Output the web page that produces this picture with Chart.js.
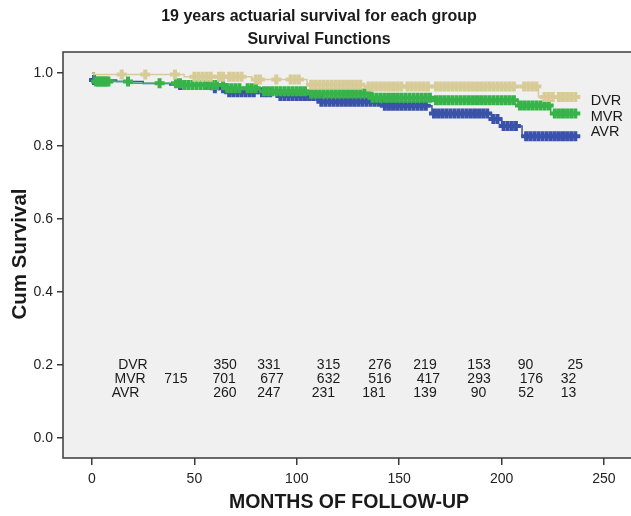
<!DOCTYPE html>
<html><head><meta charset="utf-8">
<script src="https://cdn.jsdelivr.net/npm/chart.js@4/dist/chart.umd.min.js"></script>
<style>html,body{margin:0;padding:0;background:#fff;}#wrap{width:631px;height:516px;}</style>
</head><body><div id="wrap"><canvas id="c" width="631" height="516"></canvas></div>
<script>
// ---------- DATA ----------
const groups = ['DVR', 'MVR', 'AVR'];
const xTicks = [0, 50, 100, 150, 200, 250];
const yTicks = [0, 0.2, 0.4, 0.6, 0.8, 1.0];

// Kaplan-Meier steps (month, cumulative survival after the step)
const dvrTime = [0, 1, 45, 78, 105, 133, 218, 237];
const dvrSurv = [1.0, 0.996, 0.990, 0.982, 0.968, 0.963, 0.934, 0.934];
const mvrTime = [0, 1, 18, 45, 66, 82, 106, 136, 167, 208, 224, 237];
const mvrSurv = [1.0, 0.977, 0.972, 0.967, 0.958, 0.950, 0.944, 0.932, 0.925, 0.911, 0.889, 0.889];
const avrTime = [0, 1, 12, 25, 38, 58, 67, 92, 111, 142, 166, 195, 200, 210, 237];
const avrSurv = [1.0, 0.981, 0.977, 0.971, 0.967, 0.958, 0.947, 0.937, 0.921, 0.910, 0.889, 0.874, 0.855, 0.827, 0.827];

// censored observations (months)
const dvrCensor = [14.5, 26, 40.5, 50, 52, 54, 56, 58, 62, 64, 67, 69, 71, 73, 80, 82, 90, 97, 99, 101,
  107, 109, 111, 113, 115, 117, 119, 121, 123, 125, 127, 129, 131, 135, 137, 139, 141, 143, 145, 147, 149,
  151, 154, 156, 158, 160, 162, 164, 168, 170, 172, 174, 176, 178, 180, 182, 184, 186, 188, 190, 192, 194,
  196, 198, 200, 202, 204, 206, 211, 213, 215, 217, 221, 223, 225, 228, 230, 232, 234, 236];
const mvrCensor = [2, 3, 4, 5, 6, 7, 8, 17.6, 33, 41, 43, 45, 47, 49, 51, 53, 55, 57, 59, 61, 64, 66, 68,
  70, 72, 76, 78, 80, 84, 86, 88, 90, 92, 94, 96, 98, 100, 102, 104, 107, 109, 111, 113, 115, 117, 119,
  121, 123, 125, 127, 129, 131, 133, 135, 137, 139, 141, 143, 145, 147, 149, 151, 153, 155, 157, 159, 161,
  163, 165, 168, 170, 172, 174, 176, 178, 180, 182, 184, 186, 188, 190, 192, 194, 196, 198, 200, 202, 204,
  206, 209, 211, 213, 215, 217, 219, 221, 223, 226, 228, 230, 232, 234, 236];
const avrCensor = [1, 43, 56, 60, 64, 67, 69, 71, 73, 75, 77, 79, 83, 85, 87, 92, 94, 96, 98, 100, 102, 104,
  106, 108, 110, 112, 114, 116, 118, 120, 122, 124, 126, 128, 130, 132, 134, 136, 138, 140, 143, 145, 147,
  149, 151, 153, 155, 157, 159, 161, 163, 167, 169, 171, 173, 175, 177, 179, 181, 183, 185, 187, 189, 191,
  193, 196, 198, 201, 203, 205, 207, 212, 214, 216, 218, 220, 222, 224, 226, 228, 230, 232, 234, 236];

// numbers at risk (value, month at which it is printed)
const dvrRisk = [350, 331, 315, 276, 219, 153, 90, 25];
const dvrRiskMonth = [65, 86.4, 115.5, 140.6, 162.6, 189, 211.7, 236];
const mvrRisk = [715, 701, 677, 632, 516, 417, 293, 176, 32];
const mvrRiskMonth = [41, 64.5, 87.9, 115.5, 140.6, 164.3, 189, 214.6, 232.7];
const avrRisk = [260, 247, 231, 181, 139, 90, 52, 13];
const avrRiskMonth = [64.9, 86.4, 113, 137.7, 162.6, 188.7, 212, 232.7];

// ---------- STYLE ----------
const colors = { DVR: '#d7cc98', MVR: '#37b349', AVR: '#3a52a8' };
const FONT = '"Liberation Sans", Arial, sans-serif';

function survAt(time, surv, t) {
  let v = surv[0];
  for (let i = 0; i < time.length; i++) { if (time[i] <= t) v = surv[i]; }
  return v;
}
function lineData(time, surv) { return time.map((t, i) => ({ x: t, y: surv[i] })); }
function markData(time, surv, cens) { return cens.map(t => ({ x: t, y: survAt(time, surv, t) })); }

const series = {
  DVR: { time: dvrTime, surv: dvrSurv, cens: dvrCensor },
  MVR: { time: mvrTime, surv: mvrSurv, cens: mvrCensor },
  AVR: { time: avrTime, surv: avrSurv, cens: avrCensor }
};

const datasets = [];
groups.forEach(g => {
  const s = series[g];
  datasets.push({
    label: g + ' censored', data: markData(s.time, s.surv, s.cens), showLine: false,
    pointStyle: 'cross', pointRadius: 5, pointBorderWidth: 4, borderColor: colors[g], backgroundColor: colors[g]
  });
  datasets.push({
    label: g, data: lineData(s.time, s.surv), showLine: true, stepped: true,
    borderColor: colors[g], borderWidth: 1.5, pointRadius: 0, fill: false
  });
});

const riskRows = [
  { name: 'DVR', vals: dvrRisk, months: dvrRiskMonth, y: 0.200, nameMonth: 20 },
  { name: 'MVR', vals: mvrRisk, months: mvrRiskMonth, y: 0.161, nameMonth: 18.6 },
  { name: 'AVR', vals: avrRisk, months: avrRiskMonth, y: 0.122, nameMonth: 16.4 }
];
const endLabelMonth = 243.5;
const endLabelY = { DVR: 0.923, MVR: 0.880, AVR: 0.838 };

const decor = {
  id: 'decor',
  beforeDraw(chart) {
    const { ctx, chartArea: a } = chart;
    ctx.save();
    ctx.fillStyle = '#ffffff';
    ctx.fillRect(0, 0, chart.width, chart.height);
    ctx.fillStyle = '#f0f0f0';
    ctx.fillRect(a.left, a.top, a.right - a.left, a.bottom - a.top);
    ctx.restore();
  },
  afterDraw(chart) {
    const { ctx, chartArea: a } = chart;
    const xs = chart.scales.x, ys = chart.scales.y;
    ctx.save();
    // frame
    ctx.strokeStyle = '#3a3a3a';
    ctx.lineWidth = 1.5;
    ctx.beginPath();
    ctx.moveTo(a.right + 2, a.top);
    ctx.lineTo(a.left, a.top);
    ctx.lineTo(a.left, a.bottom);
    ctx.lineTo(a.right + 2, a.bottom);
    ctx.stroke();

    ctx.fillStyle = '#1a1a1a';
    ctx.textAlign = 'center';
    ctx.textBaseline = 'middle';
    ctx.font = 'bold 16px ' + FONT;
    ctx.fillText('19 years actuarial survival for each group', 319, 17);
    ctx.fillText('Survival Functions', 319, 40);

    ctx.font = 'bold 19.5px ' + FONT;
    ctx.fillText('MONTHS OF FOLLOW-UP', 349, 503);
    ctx.save();
    ctx.font = 'bold 20.5px ' + FONT;
    ctx.translate(20, 254);
    ctx.rotate(-Math.PI / 2);
    ctx.fillText('Cum Survival', 0, 0);
    ctx.restore();

    // end-of-curve labels
    ctx.font = '14.5px ' + FONT;
    ctx.textAlign = 'left';
    groups.forEach(g => {
      ctx.fillText(g, xs.getPixelForValue(endLabelMonth), ys.getPixelForValue(endLabelY[g]));
    });

    // numbers at risk
    ctx.font = '14px ' + FONT;
    ctx.textAlign = 'center';
    riskRows.forEach(r => {
      const y = ys.getPixelForValue(r.y);
      ctx.fillText(r.name, xs.getPixelForValue(r.nameMonth), y);
      r.vals.forEach((v, i) => ctx.fillText(String(v), xs.getPixelForValue(r.months[i]), y));
    });
    ctx.restore();
  }
};

new Chart(document.getElementById('c'), {
  type: 'scatter',
  data: { datasets },
  options: {
    responsive: false,
    animation: false,
    layout: { autoPadding: false, padding: { top: 52, left: 0, right: 0, bottom: 0 } },
    plugins: { legend: { display: false }, tooltip: { enabled: false }, title: { display: false } },
    scales: {
      x: {
        type: 'linear', min: -14.16, max: 263.2,
        afterBuildTicks: s => { s.ticks = xTicks.map(v => ({ value: v })); },
        afterFit: s => { s.height = 58; s.paddingLeft = 0; s.paddingRight = 0; },
        ticks: { font: { family: FONT, size: 14 }, color: '#222', padding: 6, maxRotation: 0, callback: v => String(v) },
        grid: { drawOnChartArea: false, drawTicks: true, tickLength: 7, color: '#3a3a3a', lineWidth: 1.5 },
        border: { display: false }
      },
      y: {
        type: 'linear', min: -0.0548, max: 1.0575,
        afterBuildTicks: s => { s.ticks = yTicks.map(v => ({ value: v })); },
        afterFit: s => { s.width = 63; s.paddingTop = 0; s.paddingBottom = 0; },
        ticks: { font: { family: FONT, size: 14 }, color: '#222', padding: 4, callback: v => Number(v).toFixed(1) },
        grid: { drawOnChartArea: false, drawTicks: true, tickLength: 6, color: '#3a3a3a', lineWidth: 1.5 },
        border: { display: false }
      }
    }
  },
  plugins: [decor]
});
</script>
</body></html>
